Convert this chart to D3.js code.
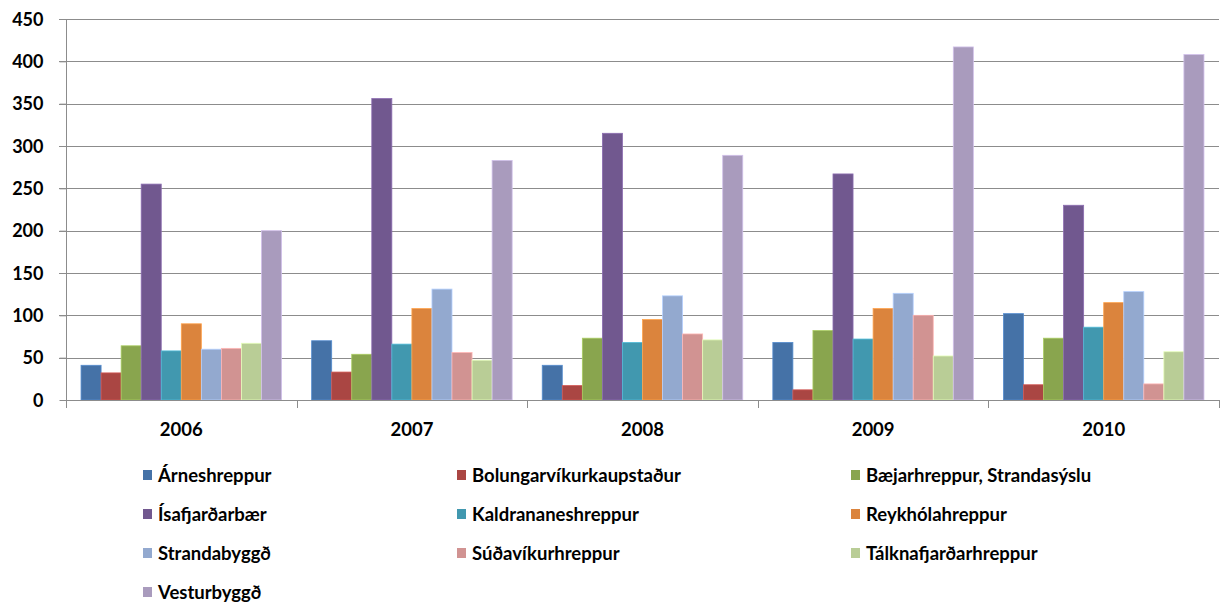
<!DOCTYPE html>
<html>
<head>
<meta charset="utf-8">
<script src="https://cdn.jsdelivr.net/npm/d3@7.9.0/dist/d3.min.js"></script>
<style>
  body { margin: 0; background: #fff; }
  svg text { font-family: Lato, "Liberation Sans", sans-serif; font-weight: bold; fill: #000; }
</style>
</head>
<body>
<svg id="chart" width="1223" height="604"></svg>
<script>
// Years on the x axis
const years = ['2006', '2007', '2008', '2009', '2010'];

// Municipalities (series), in legend order
const municipalities = [
  'Árneshreppur', 'Bolungarvíkurkaupstaður', 'Bæjarhreppur, Strandasýslu',
  'Ísafjarðarbær', 'Kaldrananeshreppur', 'Reykhólahreppur',
  'Strandabyggð', 'Súðavíkurhreppur', 'Tálknafjarðarhreppur',
  'Vesturbyggð'
];

// Values per year, one entry per municipality (same order as above)
const values2006 = [41, 32, 64, 255, 58, 90, 60, 61, 67, 200];
const values2007 = [70, 33, 54, 356, 66, 108, 131, 56, 47, 283];
const values2008 = [41, 17, 73, 315, 68, 95, 123, 78, 71, 289];
const values2009 = [68, 12, 82, 267, 72, 108, 126, 100, 52, 417];
const values2010 = [102, 18, 73, 230, 86, 115, 128, 19, 57, 408];

const yTicks = [0, 50, 100, 150, 200, 250, 300, 350, 400, 450];

const colors = ['#4572A7', '#AA4643', '#89A54E', '#71588F', '#4198AF',
                '#DB843D', '#93A9CF', '#D19392', '#B9CD96', '#A99BBD'];

const valuesByYear = [values2006, values2007, values2008, values2009, values2010];
const data = years.map((year, i) => ({ year, values: valuesByYear[i] }));

const svg = d3.select('#chart');
const margin = { left: 66, right: 1219, top: 19, bottom: 400 };

// Scales
const x0 = d3.scaleBand().domain(years).range([margin.left, margin.right]).paddingInner(0).paddingOuter(0);
const x1 = d3.scaleBand().domain(municipalities).range([0, x0.bandwidth()]).paddingOuter(0.75).paddingInner(0);
const y = d3.scaleLinear().domain([0, 450]).range([margin.bottom, margin.top]);
const color = d3.scaleOrdinal().domain(municipalities).range(colors);

// Gridlines
svg.append('g')
  .selectAll('line')
  .data(yTicks.filter(d => d > 0))
  .join('line')
  .attr('x1', margin.left - 7)
  .attr('x2', margin.right)
  .attr('y1', d => Math.round(y(d)) + 0.5)
  .attr('y2', d => Math.round(y(d)) + 0.5)
  .attr('stroke', '#8c8c8c')
  .attr('stroke-width', 1);

// Bars
const groups = svg.append('g')
  .selectAll('g')
  .data(data)
  .join('g')
  .attr('transform', d => `translate(${x0(d.year)},0)`);

groups.selectAll('rect')
  .data(d => d.values.map((v, i) => ({ name: municipalities[i], value: v })))
  .join('rect')
  .attr('x', d => x1(d.name))
  .attr('y', d => y(d.value))
  .attr('width', x1.bandwidth())
  .attr('height', d => y(0) - y(d.value))
  .attr('fill', d => color(d.name))
  .attr('stroke', d => d3.color(color(d.name)).brighter(0.6))
  .attr('stroke-width', 0.8);

// Y axis
const yAxis = d3.axisLeft(y).tickValues(yTicks).tickSize(7).tickPadding(16);
const gy = svg.append('g')
  .attr('transform', `translate(${margin.left + 0.5},0)`)
  .call(yAxis);
gy.select('.domain').attr('stroke', '#8c8c8c').attr('d', `M-7,${margin.top + 0.5}H0V${margin.bottom + 0.5}`);
gy.selectAll('.tick line').attr('stroke', '#8c8c8c');
gy.selectAll('.tick text').style('font-size', '18px').attr('dy', '0.35em');

// X axis
const xAxis = d3.axisBottom(x0).tickSize(0).tickPadding(22);
const gx = svg.append('g')
  .attr('transform', `translate(0,${margin.bottom + 0.5})`)
  .call(xAxis);
gx.select('.domain').attr('stroke', '#8c8c8c').attr('d', `M${margin.left},0H${margin.right}`);
gx.selectAll('.tick text').style('font-size', '18.5px');

// Category separator ticks
svg.append('g')
  .selectAll('line')
  .data(years.map(d => x0(d)).concat([margin.right]))
  .join('line')
  .attr('x1', d => Math.round(d) + 0.5)
  .attr('x2', d => Math.round(d) + 0.5)
  .attr('y1', margin.bottom)
  .attr('y2', margin.bottom + 8)
  .attr('stroke', '#8c8c8c');

// Legend
const legendCols = [143, 457, 851];
const legendRows = [475, 514, 553, 592];
const legend = svg.append('g')
  .selectAll('g')
  .data(municipalities)
  .join('g')
  .attr('transform', (d, i) => `translate(${legendCols[i % 3]},${legendRows[Math.floor(i / 3)]})`);

legend.append('rect')
  .attr('x', 0)
  .attr('y', -5)
  .attr('width', 9)
  .attr('height', 10)
  .attr('fill', d => color(d));

legend.append('text')
  .attr('x', 15)
  .attr('y', 0)
  .attr('dy', '0.36em')
  .style('font-size', '18.5px')
  .text(d => d);
</script>
</body>
</html>
